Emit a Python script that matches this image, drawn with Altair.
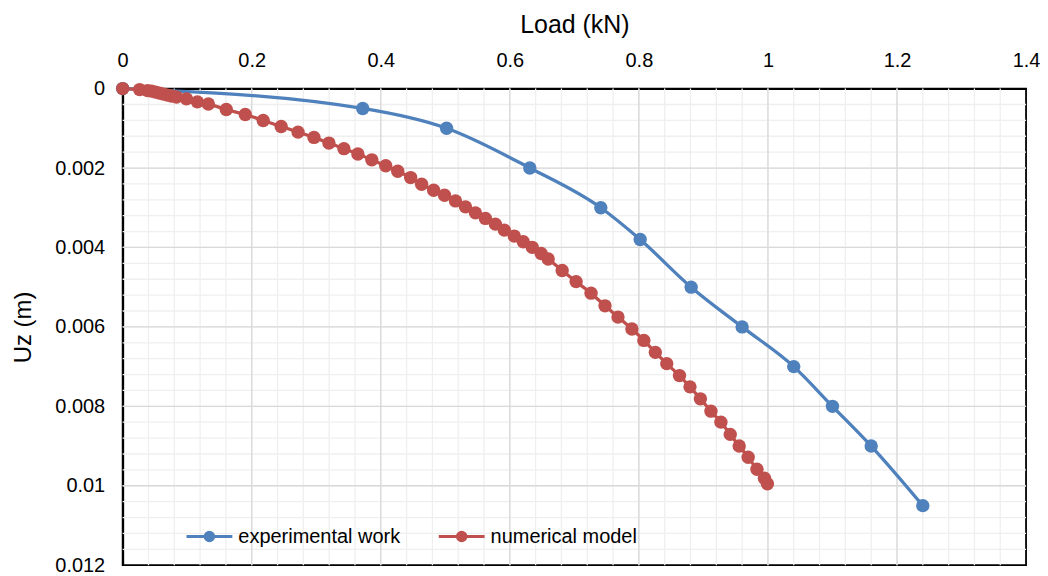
import altair as alt
import pandas as pd

# ---- data ----
exp_load = [0.0, 0.372, 0.502, 0.631, 0.741, 0.802, 0.881, 0.96, 1.04, 1.10, 1.16, 1.24]
exp_uz = [0.0, 0.0005, 0.001, 0.002, 0.003, 0.0038, 0.005, 0.006, 0.007, 0.008, 0.009, 0.0105]

num_load = [0.0, 0.0263, 0.0386, 0.0448, 0.0510, 0.0571, 0.0633, 0.0695, 0.0757, 0.0834,
            0.0988, 0.1158, 0.1328, 0.1606, 0.1900, 0.2178, 0.2456, 0.2718, 0.2965, 0.3197,
            0.3429, 0.3645, 0.3861, 0.4077, 0.4263, 0.4463, 0.4633, 0.4819, 0.4988, 0.5158,
            0.5313, 0.5467, 0.5622, 0.5776, 0.5915, 0.6069, 0.6208, 0.6347, 0.6486, 0.6595,
            0.6811, 0.7027, 0.7259, 0.7475, 0.7676, 0.7892, 0.8077, 0.8255, 0.8432, 0.8629,
            0.8792, 0.8953, 0.9117, 0.9271, 0.9416, 0.9555, 0.9694, 0.9830, 0.9946, 0.9992]
num_uz = [0.0, 0.000025, 0.00005, 0.000063, 0.000088, 0.000113, 0.000138, 0.000163, 0.000188, 0.000213,
          0.000258, 0.000334, 0.000389, 0.000527, 0.000652, 0.000803, 0.000953, 0.001096, 0.001229, 0.001372,
          0.001513, 0.001648, 0.001794, 0.001944, 0.002082, 0.002241, 0.002409, 0.002559, 0.002685, 0.002828,
          0.002978, 0.003129, 0.003269, 0.003412, 0.003563, 0.003713, 0.003856, 0.003997, 0.004152, 0.004290,
          0.004579, 0.004860, 0.005151, 0.005470, 0.005753, 0.006054, 0.006340, 0.006641, 0.006925, 0.007226,
          0.007510, 0.007811, 0.008122, 0.008398, 0.008706, 0.009000, 0.009283, 0.009585, 0.009810, 0.009948]

series_names = ["experimental work", "numerical model"]
series_colors = ["#4f81bd", "#c0504d"]

x_ticks = [0, 0.2, 0.4, 0.6, 0.8, 1.0, 1.2, 1.4]
y_ticks = [0, 0.002, 0.004, 0.006, 0.008, 0.01, 0.012]
x_minor = [round(i * 0.04, 4) for i in range(1, 35)]
y_minor = [round(i * 0.0004, 6) for i in range(1, 30)]

FONT = "Liberation Sans"

df = pd.concat([
    pd.DataFrame({"load": exp_load, "uz": exp_uz, "series": series_names[0], "order": range(len(exp_load))}),
    pd.DataFrame({"load": num_load, "uz": num_uz, "series": series_names[1], "order": range(len(num_load))}),
], ignore_index=True)

xscale = alt.Scale(domain=[0, 1.4], nice=False)
yscale = alt.Scale(domain=[0, 0.012], reverse=True, nice=False)

legend_path = "M-1,0L1,0M0.18,0A0.18,0.18,0,1,1,-0.18,0A0.18,0.18,0,1,1,0.18,0Z"

def legend():
    return alt.Legend(
        title=None, orient="none", legendX=62, legendY=424, direction="horizontal",
        columns=2, symbolType=legend_path, symbolSize=2116, symbolStrokeWidth=3.2,
        labelFont=FONT, labelFontSize=20, labelColor="#000000", labelOffset=4,
        labelLimit=400, columnPadding=31, symbolOpacity=1,
    )

xminor = alt.Chart(pd.DataFrame({"v": x_minor})).mark_rule(color="#efefef", strokeWidth=1.3).encode(
    x=alt.X("v:Q", scale=xscale))
yminor = alt.Chart(pd.DataFrame({"v": y_minor})).mark_rule(color="#efefef", strokeWidth=1.3).encode(
    y=alt.Y("v:Q", scale=yscale))
xmajor = alt.Chart(pd.DataFrame({"v": x_ticks[1:-1]})).mark_rule(color="#d9d9d9", strokeWidth=1.3).encode(
    x=alt.X("v:Q", scale=xscale))
ymajor = alt.Chart(pd.DataFrame({"v": y_ticks[1:-1]})).mark_rule(color="#d9d9d9", strokeWidth=1.3).encode(
    y=alt.Y("v:Q", scale=yscale))

xaxis = alt.Axis(orient="top", values=x_ticks, format="~g", grid=False, ticks=False,
                 labelFlush=False, labelOverlap=False, labelBound=False,
                 domain=True, domainColor="#000000", domainWidth=2,
                 labelFont=FONT, labelFontSize=20, labelColor="#000000", labelPadding=18,
                 title="Load (kN)", titleFont=FONT, titleFontSize=25, titleFontWeight="normal",
                 titleColor="#000000", titlePadding=13)
yaxis = alt.Axis(values=y_ticks, format="~g", grid=False, ticks=False,
                 labelFlush=False, labelOverlap=False, labelBound=False,
                 domain=True, domainColor="#000000", domainWidth=2,
                 labelFont=FONT, labelFontSize=20, labelColor="#000000", labelPadding=18,
                 title="Uz (m)", titleFont=FONT, titleFontSize=24, titleFontWeight="normal",
                 titleColor="#000000", titlePadding=19)

lines = alt.Chart(df).mark_line(strokeWidth=3.3, interpolate="monotone").encode(
    x=alt.X("load:Q", scale=xscale, axis=xaxis),
    y=alt.Y("uz:Q", scale=yscale, axis=yaxis),
    stroke=alt.Stroke("series:N", scale=alt.Scale(domain=series_names, range=series_colors), legend=legend()),
    order="order:Q",
)
points = alt.Chart(df).mark_circle(size=180, opacity=1).encode(
    x=alt.X("load:Q", scale=xscale),
    y=alt.Y("uz:Q", scale=yscale),
    fill=alt.Fill("series:N", scale=alt.Scale(domain=series_names, range=series_colors), legend=legend()),
)

chart = alt.layer(xminor, yminor, xmajor, ymajor, lines, points).properties(
    width=906, height=478,
    padding={"left": 115, "top": 80, "right": 14, "bottom": 10},
    autosize=alt.AutoSizeParams(type="none"),
    background="#ffffff",
).configure_view(stroke="#000000", strokeWidth=1.8, strokeOpacity=1)

chart.save("out.html", embed_options={"renderer": "svg", "actions": False})
